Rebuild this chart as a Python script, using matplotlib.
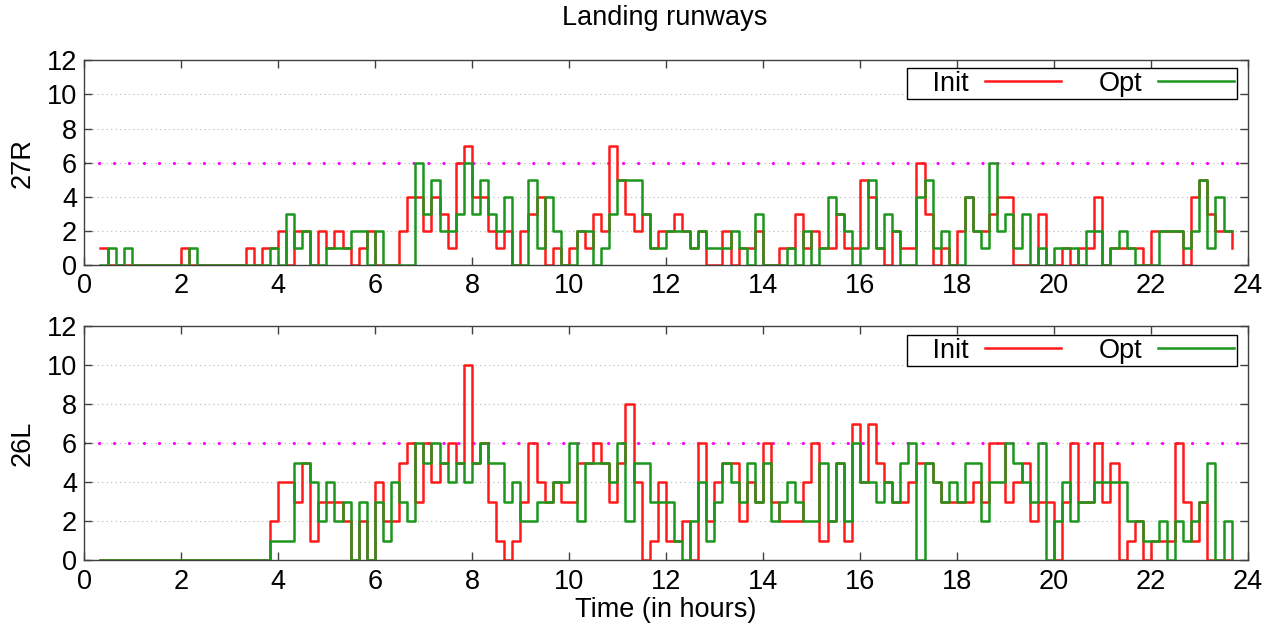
import numpy as np
import matplotlib
matplotlib.use("Agg")
import matplotlib.pyplot as plt

plt.rcParams['font.family'] = ['Liberation Sans', 'DejaVu Sans']

# 10-minute slots, first one at ~0:20
t_start = 0.33
t_step = 1 / 6

# runway 27R: landings per slot
r27_init = [1,0,0,0,0,0,0,0,0,0,
            1,0,0,0,0,0,0,0,1,0,
            1,1,2,0,2,2,0,2,1,2,
            1,0,1,2,0,0,0,2,4,4,
            2,4,3,1,6,7,4,4,2,1,
            2,0,2,3,4,0,1,0,1,2,
            1,3,2,7,5,3,2,3,1,2,
            2,3,2,1,2,0,0,2,0,1,
            1,2,0,0,1,1,3,1,2,1,
            1,3,1,1,5,4,1,0,2,1,
            1,6,3,0,1,0,2,4,2,2,
            3,4,4,0,0,0,3,0,0,1,
            0,1,1,4,0,1,1,1,1,0,
            2,2,2,2,0,4,5,3,2,2,
            1]
r27_opt = [0,1,0,1,0,0,0,0,0,0,
           0,1,0,0,0,0,0,0,0,0,
           0,1,0,3,1,2,0,0,1,1,
           1,2,2,0,2,0,0,0,0,6,
           3,5,2,2,3,6,3,5,3,2,
           4,0,0,5,1,4,2,0,0,2,
           2,0,1,3,5,5,5,3,1,1,
           2,2,2,1,2,1,1,1,2,1,
           0,3,0,0,0,1,0,2,0,1,
           4,3,2,0,1,5,1,3,2,0,
           0,4,5,1,2,0,0,4,2,1,
           6,2,3,1,3,0,1,0,1,1,
           1,0,2,2,0,1,2,1,0,0,
           0,2,2,2,1,2,5,1,4,2,
           2]

# runway 26L
r26_init = [0,0,0,0,0,0,0,0,0,0,
            0,0,0,0,0,0,0,0,0,0,
            0,2,4,4,3,5,1,3,3,3,
            2,0,2,0,4,2,2,5,6,3,
            6,4,5,6,5,10,5,6,3,1,
            0,1,3,6,4,3,4,3,3,5,
            5,6,5,3,5,8,4,0,1,4,
            1,1,2,0,6,2,4,5,5,2,
            4,3,6,3,2,2,2,4,6,1,
            2,5,1,7,4,7,5,4,3,3,
            4,5,5,4,3,3,3,3,4,3,
            6,6,3,4,5,2,3,3,0,3,
            6,3,3,6,3,5,0,1,2,0,
            1,1,1,6,3,1,3,0,0,0,
            0]
r26_opt = [0,0,0,0,0,0,0,0,0,0,
           0,0,0,0,0,0,0,0,0,0,
           0,1,1,1,5,5,4,2,4,2,
           3,0,3,0,3,1,4,3,2,6,
           5,6,5,4,5,4,5,6,5,5,
           3,4,2,2,3,3,4,4,6,2,
           5,5,5,4,6,2,5,5,3,3,
           3,1,0,2,4,1,3,5,4,3,
           5,3,5,2,3,4,3,2,2,5,
           2,5,2,6,4,4,3,4,3,5,
           6,0,5,4,3,4,3,5,5,2,
           4,4,6,5,4,3,6,0,2,4,
           2,3,3,4,4,4,4,2,2,1,
           1,2,0,2,1,2,3,5,0,2,
           0]

capacity = 6
runways = [("27R", r27_init, r27_opt), ("26L", r26_init, r26_opt)]

fig = plt.figure(figsize=(12.85, 6.28), dpi=100)
ax_top = fig.add_axes([0.0654, 0.578, 0.9058, 0.326])
ax_bot = fig.add_axes([0.0654, 0.108, 0.9058, 0.373])

fs = 19.5
for ax, (name, init, opt) in zip([ax_top, ax_bot], runways):
    t = t_start + t_step * np.arange(len(init))
    for y in [2, 4, 6, 8, 10]:
        ax.axhline(y, color='#b8b8b8', lw=0.8, ls=(0, (1, 3)), zorder=0)
    ax.axhline(capacity, color='#ff00ff', lw=2.2, ls=(0, (0.1, 4.8)),
               dash_capstyle='round', zorder=1)
    ax.step(t, init, where='post', color='#ff1a1a', lw=1.8, label='   Init', zorder=2)
    ax.step(t, opt, where='post', color='#1c961c', lw=1.8, label='Opt', zorder=3)
    ax.set_xlim(0, 24)
    ax.set_ylim(0, 12)
    ax.set_xticks(range(0, 25, 2))
    ax.set_yticks(range(0, 13, 2))
    ax.tick_params(direction='in', top=True, right=True, labelsize=fs,
                   length=6, width=1, color='#404040')
    ax.tick_params(axis='x', pad=6)
    ax.tick_params(axis='y', pad=5)
    for s in ax.spines.values():
        s.set_color('#404040')
        s.set_linewidth(1)
    ax.set_ylabel(name, fontsize=fs, labelpad=8)
    leg = ax.legend(loc='upper right', ncol=2, markerfirst=False, fontsize=fs,
                    fancybox=False, framealpha=1, edgecolor='black',
                    handlelength=2.8, columnspacing=1.4, handletextpad=0.6,
                    borderpad=0.1, borderaxespad=0,
                    bbox_to_anchor=(0.9905, 0.962))
    leg.get_frame().set_linewidth(1)

ax_bot.set_xlabel('Time (in hours)', fontsize=fs, labelpad=2)
fig.text(0.517, 0.971, 'Landing runways', ha='center', va='center', fontsize=fs)

plt.savefig("out.png")
